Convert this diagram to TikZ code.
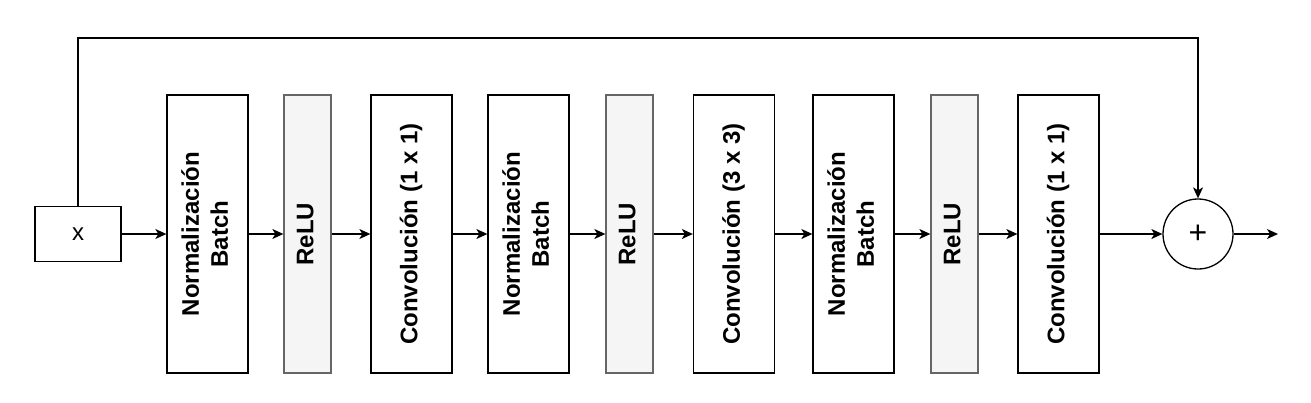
\documentclass[tikz,border=0pt]{standalone}
\usepackage{fontspec}
\setmainfont{Liberation Sans}
\usepackage{graphicx}
\usetikzlibrary{arrows.meta}
\begin{document}
\begin{tikzpicture}[x=1pt,y=-1pt,
  every node/.style={font=\fontsize{24}{29}\selectfont},
  blk/.style={draw=black, line width=1.3pt, fill=white, minimum width=81pt, minimum height=278pt, inner sep=0pt, font=\fontsize{24}{29}\selectfont\bfseries},
  relu/.style={blk, draw=black!60, fill=black!4, minimum width=47pt},
  arr/.style={line width=1.3pt, -{Stealth[length=11pt,width=10pt,inset=3pt]}}]
\useasboundingbox (0,0) rectangle (1311,402);
\newcommand{\rtext}[1]{\rotatebox{90}{\begin{tabular}{@{}c@{}}#1\end{tabular}}}
\node[draw, line width=1.3pt, minimum width=86pt, minimum height=55pt, inner sep=0pt] (xin) at (78,234) {x};
\node[blk] (nb1) at (207.5,234) {\rtext{Normalización\\Batch}};
\node[relu] (r1) at (307.5,234) {\rtext{ReLU}};
\node[blk] (c1) at (411.5,234) {\rtext{Convolución (1 x 1)}};
\node[blk] (nb2) at (528.5,234) {\rtext{Normalización\\Batch}};
\node[relu] (r2) at (629.5,234) {\rtext{ReLU}};
\node[blk] (c2) at (734,234) {\rtext{Convolución (3 x 3)}};
\node[blk] (nb3) at (853.5,234) {\rtext{Normalización\\Batch}};
\node[relu] (r3) at (954.5,234) {\rtext{ReLU}};
\node[blk] (c3) at (1058.5,234) {\rtext{Convolución (1 x 1)}};
\node[draw, circle, line width=1.3pt, minimum size=70pt, inner sep=0pt, font=\fontsize{32}{36}\selectfont] (sum) at (1198,234) {+};
\coordinate (skiptop) at (0,38);
\coordinate (out) at (1278,234);
\draw[arr] (xin.east) -- (nb1.west);
\draw[arr] (nb1.east) -- (r1.west);
\draw[arr] (r1.east) -- (c1.west);
\draw[arr] (c1.east) -- (nb2.west);
\draw[arr] (nb2.east) -- (r2.west);
\draw[arr] (r2.east) -- (c2.west);
\draw[arr] (c2.east) -- (nb3.west);
\draw[arr] (nb3.east) -- (r3.west);
\draw[arr] (r3.east) -- (c3.west);
\draw[arr] (c3.east) -- (sum.west);
\draw[arr] (xin.north) -- (xin.north |- skiptop) -- (sum.north |- skiptop) -- (sum.north);
\draw[arr] (sum.east) -- (out);
\end{tikzpicture}
\end{document}
